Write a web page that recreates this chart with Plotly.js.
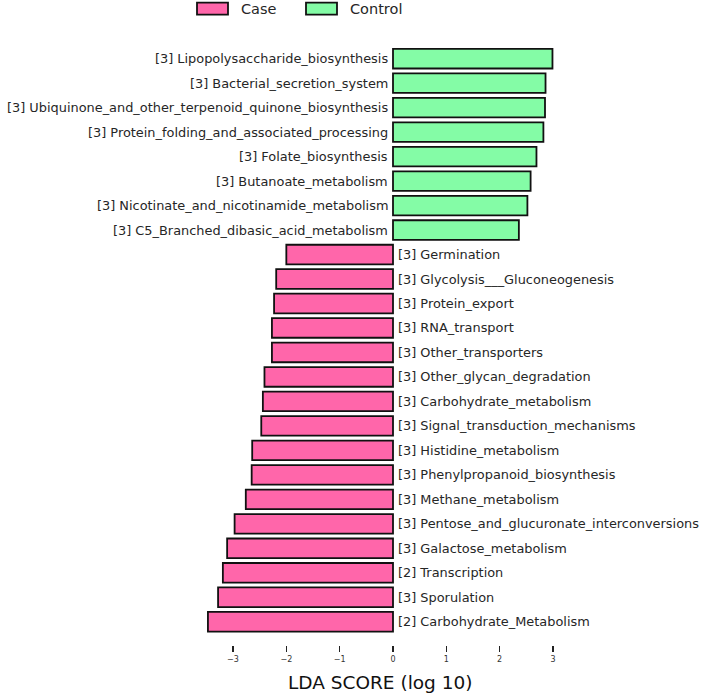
<!DOCTYPE html>
<html>
<head>
<meta charset="utf-8">
<script src="https://cdn.plot.ly/plotly-3.0.1.min.js"></script>
<style>
  html, body { margin: 0; padding: 0; background: #fff; }
  #graph { width: 708px; height: 694px; }
</style>
</head>
<body>
<div id="graph"></div>
<script>
// groups
var groups = ['Case', 'Control'];
var groupColors = ['#ff66aa', '#84fca6'];

// enriched in Control (positive LDA)
var controlFeatures = [
	'[3] Lipopolysaccharide_biosynthesis',
	'[3] Bacterial_secretion_system',
	'[3] Ubiquinone_and_other_terpenoid_quinone_biosynthesis',
	'[3] Protein_folding_and_associated_processing',
	'[3] Folate_biosynthesis',
	'[3] Butanoate_metabolism',
	'[3] Nicotinate_and_nicotinamide_metabolism',
	'[3] C5_Branched_dibasic_acid_metabolism'
];
var controlScores = [2.99, 2.86, 2.85, 2.82, 2.69, 2.58, 2.52, 2.36];

// enriched in Case (negative LDA)
var caseFeatures = [
	'[3] Germination',
	'[3] Glycolysis___Gluconeogenesis',
	'[3] Protein_export',
	'[3] RNA_transport',
	'[3] Other_transporters',
	'[3] Other_glycan_degradation',
	'[3] Carbohydrate_metabolism',
	'[3] Signal_transduction_mechanisms',
	'[3] Histidine_metabolism',
	'[3] Phenylpropanoid_biosynthesis',
	'[3] Methane_metabolism',
	'[3] Pentose_and_glucuronate_interconversions',
	'[3] Galactose_metabolism',
	'[2] Transcription',
	'[3] Sporulation',
	'[2] Carbohydrate_Metabolism'
];
var caseScores = [-2.00, -2.19, -2.23, -2.27, -2.27, -2.41, -2.44, -2.47,
	-2.64, -2.65, -2.76, -2.97, -3.11, -3.19, -3.28, -3.47];

var tickVals = [-3, -2, -1, 0, 1, 2, 3];
var xTitle = 'LDA SCORE (log 10)';

var allFeatures = controlFeatures.concat(caseFeatures);

var trCase = {
	type: 'bar', orientation: 'h',
	x: caseScores, y: caseFeatures,
	name: groups[0], width: 0.8,
	marker: {color: groupColors[0], line: {color: '#111', width: 1.8}},
	showlegend: false, hoverinfo: 'x+y'
};
var trControl = {
	type: 'bar', orientation: 'h',
	x: controlScores, y: controlFeatures,
	name: groups[1], width: 0.8,
	marker: {color: groupColors[1], line: {color: '#111', width: 1.8}},
	showlegend: false, hoverinfo: 'x+y'
};

var labelFont = {family: 'DejaVu Sans', size: 12.9, color: '#262626'};
var annotations = [];
controlFeatures.forEach(function (f) {
	annotations.push({x: 0, y: f, xref: 'x', yref: 'y', text: f, showarrow: false,
		xanchor: 'right', xshift: -3, font: labelFont});
});
caseFeatures.forEach(function (f) {
	annotations.push({x: 0, y: f, xref: 'x', yref: 'y', text: f, showarrow: false,
		xanchor: 'left', xshift: 3, font: labelFont});
});

// hand-made legend at the top and x title (pixel -> paper)
var L = 201, W = 384, B = 645.3, H = 601;
function px(v) { return (v - L) / W; }
function py(v) { return (B - v) / H; }
var shapes = [];
var legX = [197, 306];
groups.forEach(function (g, i) {
	shapes.push({type: 'rect', xref: 'paper', yref: 'paper',
		x0: px(legX[i]), x1: px(legX[i] + 31), y0: py(15), y1: py(3),
		fillcolor: groupColors[i], line: {color: '#111', width: 1.8}});
	annotations.push({xref: 'paper', yref: 'paper', x: px(legX[i] + 42), y: py(9),
		xanchor: 'left', yanchor: 'middle', text: g, showarrow: false,
		font: {family: 'DejaVu Sans', size: 14.5, color: '#262626'}});
});
annotations.push({xref: 'paper', yref: 'paper', x: px(380), y: py(683),
	xanchor: 'center', yanchor: 'middle', text: xTitle, showarrow: false,
	font: {family: 'DejaVu Sans', size: 18.5, color: '#111'}});

var layout = {
	width: 708, height: 694,
	margin: {l: 201, r: 123, t: 44, b: 49},
	paper_bgcolor: '#fff', plot_bgcolor: '#fff',
	barmode: 'overlay',
	showlegend: false,
	xaxis: {
		range: [-3.6, 3.6],
		tickvals: tickVals,
		ticks: 'outside', ticklen: 6, tickwidth: 1.2, tickcolor: '#222',
		tickfont: {family: 'DejaVu Sans', size: 8, color: '#333'},
		showgrid: false, zeroline: false, showline: false,
		automargin: false
	},
	yaxis: {
		type: 'category',
		categoryorder: 'array', categoryarray: allFeatures,
		range: [allFeatures.length - 1 + 0.95, -0.6],
		showticklabels: false, showgrid: false, zeroline: false, showline: false,
		ticks: ''
	},
	annotations: annotations,
	shapes: shapes
};

Plotly.newPlot('graph', [trCase, trControl], layout, {displayModeBar: false, staticPlot: true});
</script>
</body>
</html>
